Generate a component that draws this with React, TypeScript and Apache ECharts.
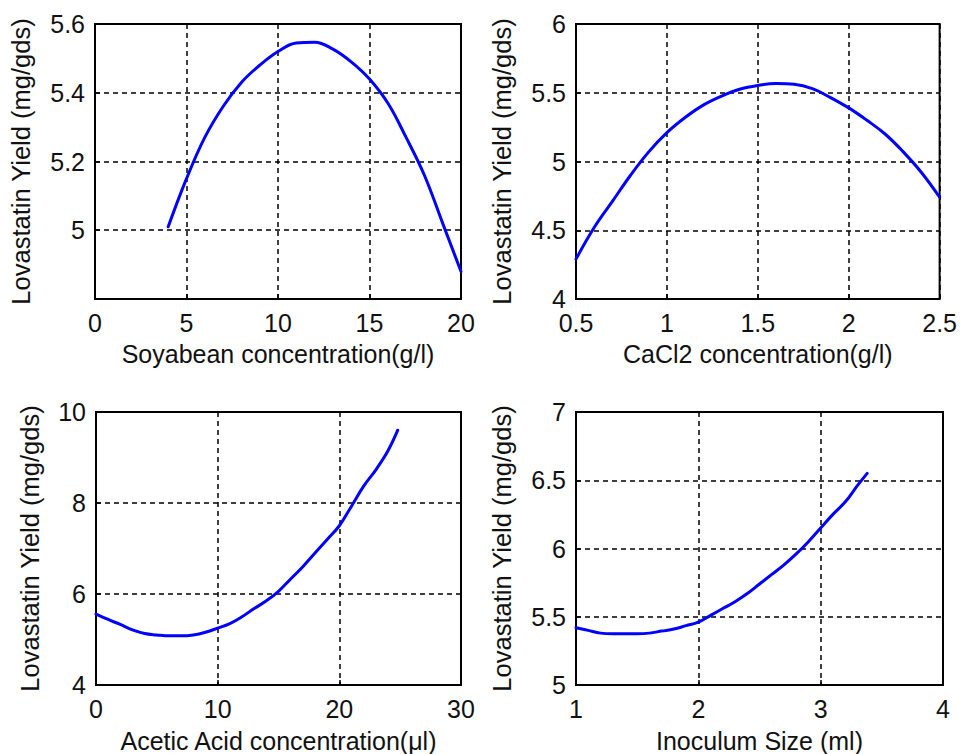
import React, { useEffect, useRef } from "react";
import * as echarts from "echarts";

// Soyabean concentration (g/l) vs yield
const soyX = [4, 5, 6, 7, 8, 9, 10, 11, 12, 13, 14, 15, 16, 17, 18, 19, 20];
const soyY = [5.01, 5.15, 5.27, 5.36, 5.43, 5.48, 5.52, 5.545, 5.547, 5.527, 5.49, 5.44, 5.37, 5.27, 5.16, 5.02, 4.88];

// CaCl2 concentration (g/l) vs yield
const caX = [0.5, 0.6, 0.7, 0.8, 0.9, 1.0, 1.1, 1.2, 1.3, 1.4, 1.5, 1.6, 1.7, 1.8, 1.9, 2.0, 2.1, 2.2, 2.3, 2.4, 2.5];
const caY = [4.29, 4.52, 4.71, 4.9, 5.07, 5.21, 5.32, 5.41, 5.475, 5.525, 5.553, 5.567, 5.562, 5.53, 5.465, 5.39, 5.3, 5.2, 5.07, 4.92, 4.74];

// Acetic acid concentration (µl) vs yield
const acX = [0, 1, 2, 3, 4, 5, 6, 7, 8, 9, 10, 11, 12, 13, 14, 15, 16, 17, 18, 19, 20, 21, 22, 23, 24, 24.8];
const acY = [5.56, 5.44, 5.33, 5.21, 5.13, 5.1, 5.08, 5.08, 5.1, 5.16, 5.25, 5.35, 5.5, 5.68, 5.85, 6.06, 6.33, 6.6, 6.9, 7.2, 7.5, 7.93, 8.37, 8.73, 9.15, 9.6];

// Inoculum size (ml) vs yield
const inX = [1.0, 1.1, 1.2, 1.3, 1.4, 1.5, 1.6, 1.7, 1.8, 1.9, 2.0, 2.1, 2.2, 2.3, 2.4, 2.5, 2.6, 2.7, 2.8, 2.9, 3.0, 3.1, 3.2, 3.3, 3.38];
const inY = [5.42, 5.4, 5.38, 5.375, 5.375, 5.375, 5.38, 5.395, 5.41, 5.435, 5.46, 5.51, 5.56, 5.61, 5.67, 5.74, 5.81, 5.88, 5.96, 6.05, 6.15, 6.25, 6.34, 6.46, 6.55];

const yTitle = "Lovastatin Yield (mg/gds)";
const xTitles = [
  "Soyabean concentration(g/l)",
  "CaCl2 concentration(g/l)",
  "Acetic Acid concentration(μl)",
  "Inoculum Size (ml)",
];
const xRanges = [
  [0, 20, 5],
  [0.5, 2.5, 0.5],
  [0, 30, 10],
  [1, 4, 1],
];
const yRanges = [
  [4.8, 5.6, 0.2],
  [4, 6, 0.5],
  [4, 10, 2],
  [5, 7, 0.5],
];
const hiddenYMin = [true, false, false, false];

const FONT = "'Liberation Sans', Arial, sans-serif";

export default function App() {
  const ref = useRef<HTMLDivElement>(null);
  useEffect(() => {
    if (!ref.current) return;
    const chart = echarts.init(ref.current, undefined, { renderer: "svg" });
    const grids = [
      { left: 95, top: 24, width: 366, height: 275 },
      { left: 576, top: 24, width: 367, height: 275 },
      { left: 96, top: 412, width: 365, height: 275 },
      { left: 576, top: 412, width: 367, height: 275 },
    ];
    const yGaps = [61, 61, 53, 61];
    const xGaps = [42, 42, 43, 43];
    const fmt = (v: number) => String(parseFloat(v.toFixed(3)));
    const split = {
      show: true,
      lineStyle: { color: "#000", type: [5, 4] as any, width: 1.5 },
    };
    const xs = [soyX, caX, acX, inX];
    const ys = [soyY, caY, acY, inY];
    const option: any = {
      animation: false,
      backgroundColor: "#fff",
      grid: grids.map((g) => ({
        ...g,
        show: true,
        borderColor: "#000",
        borderWidth: 2,
        backgroundColor: "transparent",
        containLabel: false,
      })),
      xAxis: xRanges.map((r, i) => ({
        type: "value",
        gridIndex: i,
        min: r[0],
        max: r[1],
        interval: r[2],
        name: xTitles[i],
        nameLocation: "middle",
        nameGap: xGaps[i],
        nameTextStyle: { color: "#111", fontSize: 25, fontFamily: FONT },
        axisLine: { show: false },
        axisTick: { show: true, inside: true, length: 5, lineStyle: { color: "#000", width: 1.5 } },
        axisLabel: {
          color: "#111",
          fontSize: 25,
          fontFamily: FONT,
          margin: 11,
          formatter: fmt,
          showMinLabel: true,
          showMaxLabel: true,
        },
        splitLine: split,
      })),
      yAxis: yRanges.map((r, i) => ({
        type: "value",
        gridIndex: i,
        min: r[0],
        max: r[1],
        interval: r[2],
        name: yTitle,
        nameLocation: "middle",
        nameGap: yGaps[i],
        nameTextStyle: { color: "#111", fontSize: 25.5, fontFamily: FONT },
        axisLine: { show: false },
        axisTick: { show: true, inside: true, length: 5, lineStyle: { color: "#000", width: 1.5 } },
        axisLabel: {
          color: "#111",
          fontSize: 25,
          fontFamily: FONT,
          margin: 10,
          formatter: (v: number) =>
            hiddenYMin[i] && Math.abs(v - r[0]) < 1e-9 ? "" : fmt(v),
          showMinLabel: true,
          showMaxLabel: true,
        },
        splitLine: split,
      })),
      series: xs.map((x, i) => ({
        type: "line",
        xAxisIndex: i,
        yAxisIndex: i,
        data: x.map((v, k) => [v, ys[i][k]]),
        smooth: 0.4,
        showSymbol: false,
        lineStyle: { color: "#0000ff", width: 3, cap: "round" },
        z: 5,
      })),
    };
    chart.setOption(option);
    return () => chart.dispose();
  }, []);
  return (
    <div
      ref={ref}
      style={{ position: "fixed", left: 0, top: 0, width: 960, height: 754, background: "#fff" }}
    />
  );
}
